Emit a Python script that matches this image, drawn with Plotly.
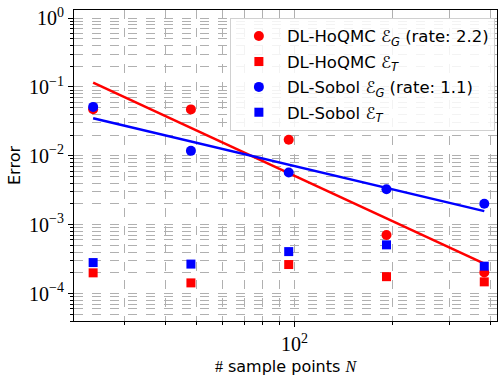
import numpy as np
import plotly.graph_objects as go

N = [24, 48, 96, 192, 384]
hoqmc_G = [0.0476, 0.0472, 0.0171, 7.07e-4, 2.02e-4]
hoqmc_T = [2.0e-4, 1.43e-4, 2.64e-4, 1.76e-4, 1.48e-4]
sobol_G = [0.0513, 0.0118, 5.73e-3, 3.27e-3, 2.01e-3]
sobol_T = [2.82e-4, 2.68e-4, 4.07e-4, 5.1e-4, 2.5e-4]

RED = "#ff0000"
BLUE = "#0000ff"
SERIF = "Liberation Serif"
SANS = "DejaVu Sans"


def fit(x, y):
    lx, ly = np.log10(x), np.log10(y)
    s, b = np.polyfit(lx, ly, 1)
    return s, [10 ** (b + s * v) for v in lx]


s_h, fit_h = fit(N, hoqmc_G)
s_s, fit_s = fit(N, sobol_G)

EG = "<i>ℰ</i><sub><i>G</i></sub>"
ET = "<i>ℰ</i><sub><i>T</i></sub>"

fig = go.Figure()
fig.add_trace(go.Scatter(x=N, y=fit_h, mode="lines", line=dict(color=RED, width=2.5),
                         showlegend=False, hoverinfo="skip"))
fig.add_trace(go.Scatter(x=N, y=fit_s, mode="lines", line=dict(color=BLUE, width=2.5),
                         showlegend=False, hoverinfo="skip"))
fig.add_trace(go.Scatter(x=N, y=hoqmc_G, mode="markers", legendgroup="a",
                         marker=dict(color=RED, size=10, symbol="circle"),
                         name=f"DL-HoQMC {EG} (rate: {-s_h:.1f})"))
fig.add_trace(go.Scatter(x=N, y=hoqmc_T, mode="markers", legendgroup="b",
                         marker=dict(color=RED, size=9, symbol="square"),
                         name=f"DL-HoQMC {ET}"))
fig.add_trace(go.Scatter(x=N, y=sobol_G, mode="markers", legendgroup="c",
                         marker=dict(color=BLUE, size=10, symbol="circle"),
                         name=f"DL-Sobol {EG} (rate: {-s_s:.1f})"))
fig.add_trace(go.Scatter(x=N, y=sobol_T, mode="markers", legendgroup="d",
                         marker=dict(color=BLUE, size=9, symbol="square"),
                         name=f"DL-Sobol {ET}"))

grid = dict(showgrid=True, gridcolor="#b0b0b0", griddash="dash", gridwidth=1)

y_minor = [m * 10.0 ** e for e in range(-5, 1) for m in range(2, 10)]

fig.update_layout(
    width=500, height=376,
    margin=dict(l=74, r=2, t=10, b=45),
    paper_bgcolor="white", plot_bgcolor="white",
    font=dict(family=SANS, size=16, color="black"),
    legend=dict(x=0.995, y=0.975, xanchor="right", yanchor="top",
                bgcolor="rgba(255,255,255,0.85)", bordercolor="#d0d0d0", borderwidth=1,
                font=dict(family=SANS, size=16.5), tracegroupgap=1, itemwidth=46),
    xaxis=dict(type="log", range=[1.3213, 2.6235], tickvals=[100], ticktext=["10<sup>2</sup>"],
               tickfont=dict(family=SERIF, size=20),
               ticks="outside", ticklen=5, tickcolor="black",
               showline=True, linecolor="black", linewidth=1.2, mirror=True,
               title=dict(text=f"<span style='font-family:{SERIF}'>#</span> sample points "
                               f"<i><span style='font-family:{SERIF}'>N</span></i>",
                          font=dict(family=SANS, size=16), standoff=8),
               zeroline=False,
               minor=dict(tickvals=[30, 40, 50, 60, 70, 80, 90, 200, 300, 400],
                          ticks="outside", ticklen=3, tickcolor="black", **grid),
               **grid),
    yaxis=dict(type="log", range=[-4.398, 0.117],
               tickvals=[1e-4, 1e-3, 1e-2, 1e-1, 1],
               ticktext=["10<sup>−4</sup>", "10<sup>−3</sup>", "10<sup>−2</sup>",
                         "10<sup>−1</sup>", "10<sup>0</sup>"],
               tickfont=dict(family=SERIF, size=20),
               ticks="outside", ticklen=5, tickcolor="black",
               showline=True, linecolor="black", linewidth=1.2, mirror=True,
               title=dict(text="Error", font=dict(family=SANS, size=16), standoff=4),
               zeroline=False,
               minor=dict(tickvals=y_minor, ticks="outside", ticklen=3, tickcolor="black", **grid),
               **grid),
)

fig.write_html("out.html")
